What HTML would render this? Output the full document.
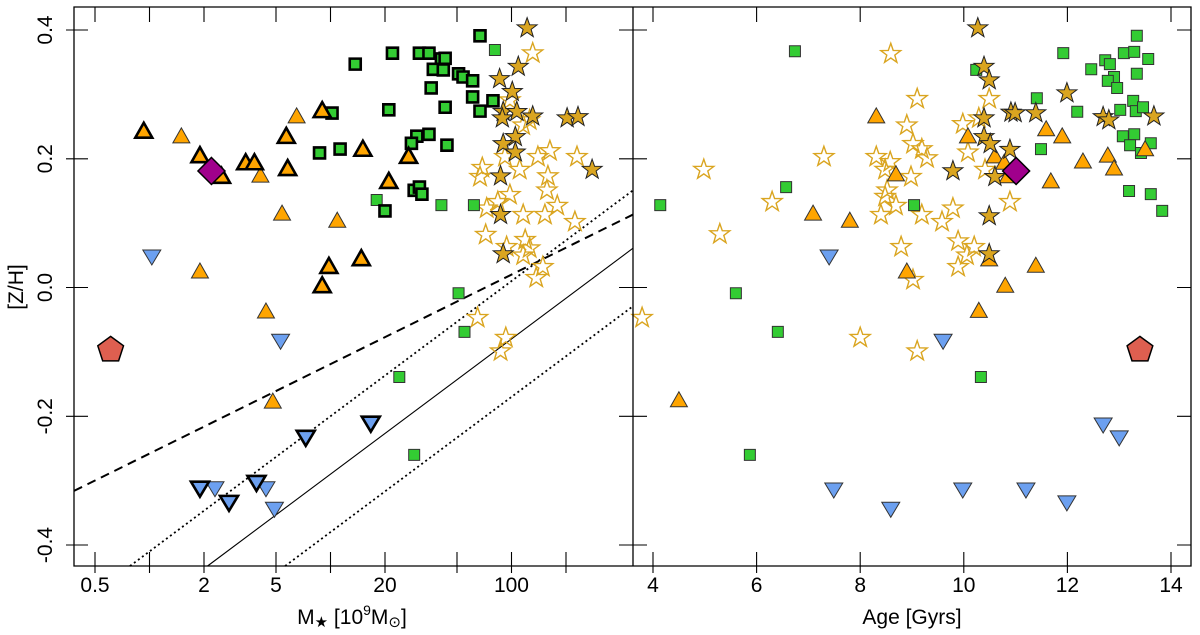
<!DOCTYPE html>
<html><head><meta charset="utf-8"><style>
html,body{margin:0;padding:0;background:#fff;width:1200px;height:635px;overflow:hidden}
body{position:relative}
svg{display:block}
text{font-family:"Liberation Sans",sans-serif;fill:#000}
</style></head><body>
<svg id="chart" width="1200" height="635" viewBox="0 0 1200 635" xmlns="http://www.w3.org/2000/svg" style="position:absolute;left:0;top:0;overflow:hidden">
<g id="marksL"></g>
<g id="marksR"></g>
<g id="axes"></g>
<text x="23" y="287" font-size="21" text-anchor="middle" transform="rotate(-90 23 287)">[Z/H]</text>
<text x="352" y="624" font-size="21" text-anchor="middle" style="font-family:'Liberation Sans','DejaVu Sans',sans-serif">M<tspan font-size="15" dy="3">★</tspan><tspan dy="-3"> [10</tspan><tspan font-size="14" dy="-9">9</tspan><tspan dy="9">M</tspan><tspan font-size="15" dy="3">⊙</tspan><tspan dy="-3">]</tspan></text>
<text x="912" y="624" font-size="21" text-anchor="middle">Age [Gyrs]</text>
</svg>
<script>
// ---- data: left panel (mass [1e9 Msun], [Z/H]) ----
const triBoldM=[0.93,1.9,2.5,3.4,3.8,5.7,5.8,9.0,9.8,9.0,14.8,15.1,27,21];
const triBoldZ=[0.242,0.204,0.172,0.193,0.193,0.234,0.184,0.274,0.032,0.002,0.044,0.214,0.203,0.164];
const triThinM=[1.5,4.1,6.5,5.4,10.9,1.9,4.4,4.8];
const triThinZ=[0.234,0.173,0.265,0.114,0.103,0.024,-0.038,-0.178];
const sqBoldM=[13.7,10.2,8.7,11.3,22,31,35,41,43,37,42,51,54,61,36,61,79,67,43,21,67,35,30,28,44,29,31,32,20];
const sqBoldZ=[0.347,0.271,0.209,0.215,0.364,0.364,0.364,0.355,0.356,0.339,0.338,0.332,0.327,0.321,0.310,0.296,0.290,0.274,0.280,0.276,0.391,0.238,0.235,0.224,0.221,0.151,0.156,0.145,0.119];
const sqThinM=[81,18,41,62,51,55,24,29];
const sqThinZ=[0.369,0.136,0.128,0.128,-0.009,-0.069,-0.139,-0.260];
const starFillM=[122,109,86,101,90,107,131,89,203,233,105,90,105,279,87,87,90];
const starFillZ=[0.403,0.343,0.324,0.304,0.273,0.273,0.266,0.263,0.263,0.265,0.234,0.223,0.210,0.183,0.173,0.113,0.052];
const starOpenM=[131,98,116,126,92,140,163,230,111,69,67,159,157,98,84,73,116,153,179,224,72,94,119,116,126,149,137,65,93,87];
const starOpenZ=[0.364,0.291,0.252,0.260,0.203,0.203,0.212,0.203,0.183,0.186,0.172,0.173,0.151,0.144,0.133,0.123,0.113,0.113,0.127,0.102,0.082,0.063,0.074,0.050,0.061,0.032,0.015,-0.047,-0.078,-0.099];
const invBoldM=[7.3,16.7,1.9,2.75,3.9];
const invBoldZ=[-0.232,-0.210,-0.311,-0.333,-0.302];
const invThinM=[1.03,5.3,2.3,4.4,4.9];
const invThinZ=[0.049,-0.082,-0.311,-0.311,-0.343];
const diamondM=[2.2], diamondZ=[0.181];
const pentM=[0.61], pentZ=[-0.097];
// relation lines: z = a + b*log10(M)
const lineSolid=[-0.50,0.21];
const lineDotHi=[-0.41,0.21];
const lineDotLo=[-0.59,0.21];
const lineDash=[-0.258,0.139];
// ---- data: right panel (age [Gyr], [Z/H]) ----
const sqAge=[6.74,11.92,13.34,13.09,13.29,13.56,12.73,12.82,12.46,13.34,12.90,12.78,12.96,10.24,11.41,12.19,13.27,13.02,13.32,13.46,13.07,13.29,13.21,13.61,13.42,11.49,13.19,13.61,13.83,6.57,4.14,9.04,5.60,6.41,10.33,5.87];
const sqZ=[0.367,0.364,0.391,0.364,0.366,0.355,0.353,0.347,0.339,0.332,0.327,0.321,0.310,0.338,0.294,0.273,0.290,0.276,0.274,0.280,0.235,0.238,0.221,0.224,0.209,0.215,0.150,0.145,0.119,0.156,0.128,0.128,-0.009,-0.069,-0.139,-0.260];
const triAge=[8.31,11.59,11.90,10.08,10.60,10.78,8.69,10.85,12.78,12.30,12.90,13.50,11.68,7.09,7.80,8.90,10.49,11.39,10.80,10.29,4.50];
const triZ=[0.265,0.245,0.234,0.234,0.203,0.193,0.175,0.172,0.204,0.195,0.184,0.214,0.164,0.114,0.103,0.024,0.043,0.033,0.002,-0.037,-0.176];
const starFillAge=[10.27,10.39,10.49,11.99,10.91,10.99,11.39,10.39,12.69,12.80,13.67,10.39,10.51,10.89,9.79,10.60,10.49,10.49];
const starFillZR=[0.403,0.343,0.322,0.302,0.272,0.271,0.271,0.263,0.265,0.260,0.266,0.234,0.223,0.214,0.181,0.172,0.111,0.052];
const starOpenAge=[8.59,9.10,10.49,8.90,9.98,10.29,9.02,9.19,9.29,10.08,8.31,8.58,7.30,4.98,8.48,8.98,10.41,8.52,8.48,8.69,8.40,9.19,9.79,9.58,10.89,6.30,5.29,8.79,9.89,10.20,10.06,9.89,9.02,3.79,8.00,9.10];
const starOpenZR=[0.363,0.293,0.293,0.252,0.254,0.263,0.223,0.215,0.201,0.210,0.203,0.195,0.203,0.183,0.183,0.172,0.183,0.151,0.141,0.127,0.113,0.113,0.123,0.102,0.133,0.133,0.083,0.063,0.072,0.063,0.050,0.032,0.012,-0.047,-0.078,-0.099];
const invAge=[7.40,9.60,12.69,13.00,7.49,8.59,9.98,11.20,11.99];
const invZR=[0.049,-0.082,-0.212,-0.232,-0.313,-0.343,-0.313,-0.313,-0.333];
const diamondAge=[11.01], diamondZR=[0.181];
const pentAge=[13.40], pentZR=[-0.097];
// ticks
const massTicks=[0.5,1,2,5,10,20,50,100,200];
const massLabels=["0.5","","2","5","","20","","100",""];
const ageTicks=[4,6,8,10,12,14];
const zTicks=[0.4,0.2,0.0,-0.2,-0.4];
const zLabels=["0.4","0.2","0.0","-0.2","-0.4"];

const NS="http://www.w3.org/2000/svg";
const xM=m=>95+(Math.log10(m)+0.30103)*181;
const xA=a=>653+(a-4)*51.8;
const yZ=z=>287.5-z*643.75;
const invY=y=>(287.5-y)/643.75;
const invXlog=x=>(x-95)/181-0.30103;
const gL=document.getElementById('marksL'),gR=document.getElementById('marksR'),gA=document.getElementById('axes');
function mk(tag,attrs,parent){const e=document.createElementNS(NS,tag);for(const k in attrs)e.setAttribute(k,attrs[k]);parent.appendChild(e);return e;}
function shape(kind,cx,cy,fill,stroke,sw,parent,name){
 let d;
 if(kind==='tri'){d=`M${cx},${cy-9}L${cx+8.5},${cy+6}L${cx-8.5},${cy+6}Z`;}
 else if(kind==='inv'){d=`M${cx},${cy+9}L${cx+9},${cy-6}L${cx-9},${cy-6}Z`;}
 else if(kind==='sq'){d=`M${cx-5.5},${cy-5.5}h11v11h-11Z`;}
 else if(kind==='dia'){d=`M${cx},${cy-13.5}L${cx+13.5},${cy}L${cx},${cy+13.5}L${cx-13.5},${cy}Z`;}
 else if(kind==='pent'){d='';for(let i=0;i<5;i++){const a=-Math.PI/2+i*2*Math.PI/5;d+=(i?'L':'M')+(cx+13.5*Math.cos(a)).toFixed(1)+','+(cy+13.5*Math.sin(a)).toFixed(1);}d+='Z';}
 else if(kind==='star'){d='';for(let i=0;i<10;i++){const r=i%2?4.2:10.5;const a=-Math.PI/2+i*Math.PI/5;d+=(i?'L':'M')+(cx+r*Math.cos(a)).toFixed(1)+','+(cy+r*Math.sin(a)).toFixed(1);}d+='Z';}
 const p=mk('path',{d:d,fill:fill,stroke:stroke,'stroke-width':sw,'stroke-linejoin':'miter'},parent);
 
 
}
function series(xs,ys,xf,kind,fill,stroke,sw,parent,name){for(let i=0;i<xs.length;i++)shape(kind,xf(xs[i]),yZ(ys[i]),fill,stroke,sw,parent,name);}
function relLine(c,dash,sw,name){
 const lBottom=(invY(566)-c[0])/c[1];
 const l0=Math.max(invXlog(74),lBottom);
 const l1=invXlog(633);
 const zf=l=>c[0]+c[1]*l;
 const x0=95+(l0+0.30103)*181, x1=95+(l1+0.30103)*181;
 const l=mk('line',{x1:x0,y1:yZ(zf(l0)),x2:x1,y2:yZ(zf(l1)),stroke:'#000','stroke-width':sw,'stroke-dasharray':dash},gL);
 
 
}
relLine(lineDash,'9,6',2,'dashed-relation');
relLine(lineDotHi,'2,3',1.8,'dotted-upper-relation');
relLine(lineSolid,'none',1.1,'solid-relation');
relLine(lineDotLo,'2,3',1.8,'dotted-lower-relation');
const OR='#FFA500',GR='#33CC33',GD='#DAA520',BL='#6CA0F0',MG='#A0008C',RD='#DE5F50';
series(starOpenM,starOpenZ,xM,'star','none',GD,1.4,gL,'hollow-star');
series(sqThinM,sqThinZ,xM,'sq',GR,'#333',1,gL,'green-square');
series(sqBoldM,sqBoldZ,xM,'sq',GR,'#000',2.6,gL,'green-square-bold');
series(triThinM,triThinZ,xM,'tri',OR,'#333',1,gL,'orange-triangle');
series(triBoldM,triBoldZ,xM,'tri',OR,'#000',2.6,gL,'orange-triangle-bold');
series(starFillM,starFillZ,xM,'star',GD,'#222',1,gL,'filled-star');
series(invThinM,invThinZ,xM,'inv',BL,'#333',1,gL,'blue-triangle');
series(invBoldM,invBoldZ,xM,'inv',BL,'#000',2.6,gL,'blue-triangle-bold');
series(diamondM,diamondZ,xM,'dia',MG,'#000',1.5,gL,'magenta-diamond');
series(pentM,pentZ,xM,'pent',RD,'#000',1.5,gL,'red-pentagon');
series(starOpenAge,starOpenZR,xA,'star','none',GD,1.4,gR,'hollow-star');
series(sqAge,sqZ,xA,'sq',GR,'#333',1,gR,'green-square');
series(triAge,triZ,xA,'tri',OR,'#333',1,gR,'orange-triangle');
series(starFillAge,starFillZR,xA,'star',GD,'#222',1,gR,'filled-star');
series(invAge,invZR,xA,'inv',BL,'#333',1,gR,'blue-triangle');
series(diamondAge,diamondZR,xA,'dia',MG,'#000',1.5,gR,'magenta-diamond');
series(pentAge,pentZR,xA,'pent',RD,'#000',1.5,gR,'red-pentagon');
const ax=mk('path',{d:'M74,7H1191V566H74Z M633,7V566',fill:'none',stroke:'#000','stroke-width':1.3},gA);


let tk='';
massTicks.forEach(m=>{const x=xM(m).toFixed(1);tk+=`M${x},552V573M${x},7V22`;});
ageTicks.forEach(a=>{const x=xA(a).toFixed(1);tk+=`M${x},552V573M${x},7V22`;});
zTicks.forEach(z=>{const y=yZ(z).toFixed(1);tk+=`M66,${y}H88M619,${y}H647M1177,${y}H1191`;});
const tp=mk('path',{d:tk,stroke:'#000','stroke-width':1.1,fill:'none'},gA);


massTicks.forEach((m,i)=>{if(!massLabels[i])return;const t=mk('text',{x:xM(m),y:592,'font-size':21,'text-anchor':'middle'},gA);t.textContent=massLabels[i];
 
 });
ageTicks.forEach(a=>{const t=mk('text',{x:xA(a),y:592,'font-size':21,'text-anchor':'middle'},gA);t.textContent=String(a);
 
 });
zTicks.forEach((z,i)=>{const y=yZ(z);const t=mk('text',{x:52,y:y,'font-size':21,'text-anchor':'middle',transform:`rotate(-90 52 ${y})`},gA);t.textContent=zLabels[i];
 
 });
</script>
</body></html>
